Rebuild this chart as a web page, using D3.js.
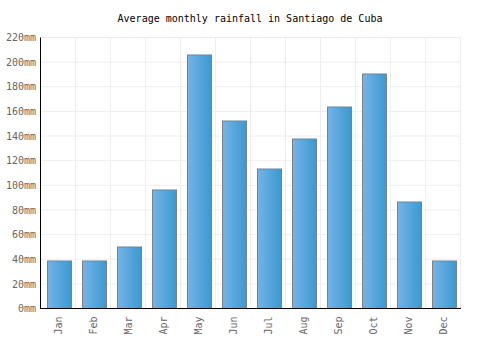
<!DOCTYPE html>
<html>
<head>
<meta charset="utf-8">
<script src="https://cdn.jsdelivr.net/npm/d3@7"></script>
<style>
  body { margin: 0; background: #fff; }
  svg { display: block; }
</style>
</head>
<body>
<script>
// chart data
const months = ["Jan", "Feb", "Mar", "Apr", "May", "Jun", "Jul", "Aug", "Sep", "Oct", "Nov", "Dec"];
const rainfall = [39, 39, 50, 97, 206, 153, 114, 138, 164, 191, 87, 39];
const yTicks = [0, 20, 40, 60, 80, 100, 120, 140, 160, 180, 200, 220];

const width = 500,
  height = 350;
const margin = { top: 37.5, right: 39, bottom: 41.5, left: 41 };
const innerWidth = width - margin.left - margin.right;
const innerHeight = height - margin.top - margin.bottom;
const font = "'DejaVu Sans Mono', monospace";

const svg = d3
  .select("body")
  .append("svg")
  .attr("width", width)
  .attr("height", height);

// bar gradient
const grad = svg
  .append("defs")
  .append("linearGradient")
  .attr("id", "barGrad")
  .attr("x1", "0%")
  .attr("x2", "100%");
grad.append("stop").attr("offset", "0%").attr("stop-color", "#74b4e9");
grad.append("stop").attr("offset", "100%").attr("stop-color", "#3b99cf");

const mainG = svg
  .append("g")
  .attr("transform", `translate(${margin.left},${margin.top})`);

// scales
const xScale = d3
  .scaleBand()
  .domain(months)
  .range([0, innerWidth])
  .paddingInner(0.32)
  .paddingOuter(0.16);

const yScale = d3.scaleLinear().domain([0, 220]).range([innerHeight, 0]);

// grid lines
mainG
  .append("g")
  .selectAll("line")
  .data(yTicks.slice(1))
  .enter()
  .append("line")
  .attr("x1", 0)
  .attr("x2", innerWidth)
  .attr("y1", (d) => yScale(d))
  .attr("y2", (d) => yScale(d))
  .attr("stroke", "#eeeeee")
  .attr("stroke-width", 1);

const step = innerWidth / months.length;
mainG
  .append("g")
  .selectAll("line")
  .data(months)
  .enter()
  .append("line")
  .attr("x1", (d, i) => (i + 1) * step - 0.5)
  .attr("x2", (d, i) => (i + 1) * step - 0.5)
  .attr("y1", 0)
  .attr("y2", innerHeight)
  .attr("stroke", "#eeeeee")
  .attr("stroke-width", 1);

// bars
mainG
  .append("g")
  .selectAll("rect")
  .data(rainfall)
  .enter()
  .append("rect")
  .attr("x", (d, i) => Math.round(xScale(months[i])) + 0.5)
  .attr("y", (d) => Math.round(yScale(d)) + 0.5)
  .attr("width", Math.round(xScale.bandwidth()))
  .attr("height", (d) => innerHeight - Math.round(yScale(d)) - 0.5)
  .attr("fill", "url(#barGrad)")
  .attr("stroke", "#808080")
  .attr("stroke-width", 1);

// y axis
const yAxis = d3
  .axisLeft(yScale)
  .tickValues(yTicks)
  .tickSize(0)
  .tickPadding(5)
  .tickFormat((d) => d + "mm");

const yG = mainG.append("g").call(yAxis);
yG.select(".domain").attr("stroke", "#000").attr("d", `M-0.5,0V${innerHeight}`);
yG.selectAll("text")
  .attr("font-family", font)
  .attr("font-size", 10)
  .attr("fill", "#666");

// x axis
const xAxis = d3.axisBottom(xScale).tickSize(0);
const xG = mainG
  .append("g")
  .attr("transform", `translate(0,${innerHeight})`)
  .call(xAxis);
xG.select(".domain").attr("stroke", "#000").attr("d", `M-1,0H${innerWidth}`);
xG.selectAll("text")
  .attr("font-family", font)
  .attr("font-size", 10)
  .attr("fill", "#666")
  .attr("text-anchor", "end")
  .attr("dy", "0.35em")
  .attr("transform", "translate(0,8) rotate(-90)")
  .attr("x", 0)
  .attr("y", 0);

// title
svg
  .append("text")
  .attr("x", width / 2)
  .attr("y", 22)
  .attr("text-anchor", "middle")
  .attr("font-family", font)
  .attr("font-size", 10)
  .attr("fill", "#000")
  .text("Average monthly rainfall in Santiago de Cuba");
</script>
</body>
</html>
